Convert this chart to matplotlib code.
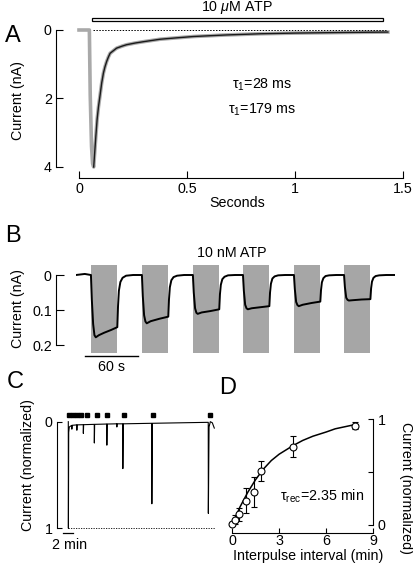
import matplotlib
matplotlib.use("Agg")
import matplotlib.pyplot as plt
from matplotlib.patches import Rectangle

plt.rcParams['font.family'] = ['Liberation Sans', 'DejaVu Sans']
plt.rcParams['font.size'] = 10.3
plt.rcParams['mathtext.fontset'] = 'custom'
plt.rcParams['mathtext.rm'] = 'Liberation Sans'
plt.rcParams['mathtext.it'] = 'Liberation Sans:italic'

# ---------------- data ----------------
# A: response to 10 uM ATP (seconds, nA)
a_t = [0, 0.048, 0.052, 0.058, 0.063, 0.068, 0.073, 0.078, 0.084, 0.09, 0.097,
       0.105, 0.113, 0.12, 0.128, 0.136, 0.144, 0.16, 0.174, 0.2, 0.22, 0.26,
       0.30, 0.375, 0.45, 0.53, 0.68, 0.84, 1.0, 1.2, 1.43]
a_i = [0, 0, 1.9, 3.4, 3.9, 4.0, 3.55, 3.1, 2.6, 2.25, 1.93,
       1.55, 1.26, 1.08, 0.92, 0.79, 0.68, 0.6, 0.53, 0.47, 0.43, 0.38,
       0.34, 0.27, 0.23, 0.19, 0.145, 0.11, 0.09, 0.075, 0.06]
a_fit_from = 5  # fit drawn from the peak on
a_xticks = [0, 0.5, 1, 1.5]
a_yticks = [0, 2, 4]

# B: 10 nM ATP pulses (seconds, nA)
b_pulse_start = [17, 75, 133, 190, 248, 305]
b_pulse_len = 30
b_t = [0, 10, 17, 18, 19.5, 21, 22.5, 26, 32, 40, 47, 47.8, 48.8, 50.5, 53, 57, 65,
       75, 76, 77.5, 79, 80.5, 85, 95, 105, 105.8, 106.8, 108.5, 111, 115, 123,
       133, 134, 135.5, 137, 138.5, 143, 153, 163, 163.8, 164.8, 166.5, 169, 173, 181,
       190, 191, 192.5, 194, 195.5, 200, 210, 220, 220.8, 221.8, 223.5, 226, 230, 238,
       248, 249, 250.5, 252, 253.5, 258, 268, 278, 278.8, 279.8, 281.5, 284, 288, 296,
       305, 306, 307.5, 309, 310.5, 315, 325, 335, 335.8, 336.8, 338.5, 341, 345, 353, 363]
b_i = [0, -0.003, 0, 0.07, 0.14, 0.172, 0.178, 0.172, 0.165, 0.157, 0.149, 0.09, 0.045, 0.02, 0.008, 0.002, 0,
       0, 0.06, 0.115, 0.133, 0.138, 0.132, 0.125, 0.119, 0.07, 0.035, 0.015, 0.006, 0.002, 0,
       0, 0.05, 0.095, 0.108, 0.111, 0.107, 0.103, 0.098, 0.055, 0.028, 0.012, 0.005, 0.001, 0,
       0, 0.045, 0.085, 0.095, 0.098, 0.095, 0.092, 0.089, 0.05, 0.025, 0.01, 0.004, 0.001, 0,
       0, 0.04, 0.077, 0.086, 0.089, 0.085, 0.08, 0.076, 0.043, 0.021, 0.009, 0.003, 0.001, 0,
       0, 0.035, 0.065, 0.071, 0.073, 0.072, 0.07, 0.069, 0.038, 0.019, 0.008, 0.003, 0.001, 0, 0]
b_yticks = [0, 0.1, 0.2]

# C: paired pulses, normalized current (minutes)
c_t = [0, 0.02, 0.08, 0.2, 0.5, 0.69, 0.71, 0.76, 1.69, 1.71, 1.76, 2.99, 3.01, 3.07,
       5.19, 5.21, 5.27, 7.69, 7.71, 7.77, 9.69, 9.71, 9.76, 10.89, 10.91, 10.99,
       16.69, 16.71, 16.8, 27.99, 28.01, 28.15, 28.4, 28.8, 29.2]
c_i = [0, 1.0, 0.1, 0.05, 0.04, 0.035, 0.07, 0.034, 0.03, 0.08, 0.03, 0.028, 0.11, 0.028,
       0.025, 0.2, 0.025, 0.022, 0.22, 0.022, 0.02, 0.05, 0.02, 0.02, 0.44, 0.02,
       0.015, 0.77, 0.015, 0.006, 0.86, 0.05, 0.0, 0.01, 0.06]
c_marks = [0.14, 0.94, 1.74, 2.54, 3.7, 5.7, 7.8, 11.1, 16.9, 28.3]

# D: recovery from desensitization
d_x = [0, 0.2, 0.41, 0.88, 1.38, 1.85, 3.87, 7.83]
d_y = [0.01, 0.05, 0.10, 0.23, 0.31, 0.51, 0.74, 0.94]
d_err = [0.01, 0.04, 0.065, 0.12, 0.14, 0.095, 0.10, 0.036]
d_fit_x = [0, 0.5, 1.0, 1.5, 2.0, 2.5, 3.0, 3.87, 4.5, 5.15, 6.0, 6.57, 7.2, 7.83]
d_fit_y = [0, 0.17, 0.31, 0.43, 0.53, 0.61, 0.67, 0.75, 0.8, 0.84, 0.88, 0.91, 0.93, 0.95]
tau_rec = 2.35

# ---------------- layout helpers (pixel coords, origin top-left) ----------------
W, H = 414, 565
PT = 0.72  # points per pixel at 100 dpi
fig = plt.figure(figsize=(W / 100, H / 100), dpi=100)


def px_axes(l, t, r, b):
    return fig.add_axes([l / W, 1 - b / H, (r - l) / W, (b - t) / H])


def ftext(x, y, s, **kw):
    kw.setdefault('ha', 'center')
    kw.setdefault('va', 'center')
    fig.text(x / W, 1 - y / H, s, **kw)


def clean(ax):
    for s in ax.spines.values():
        s.set_visible(False)
    ax.set_xticks([])
    ax.set_yticks([])
    ax.patch.set_visible(False)


# ---------------- A ----------------
ax = px_axes(79, 30, 403, 167)
clean(ax)
ax.set_xlim(0, 1.5)
ax.set_ylim(4, 0)
ax.plot(a_t, a_i, color='#a9a9a9', lw=2.6, solid_joinstyle='round', clip_on=False)
ax.plot(a_t[a_fit_from:], a_i[a_fit_from:], color='#1a1a1a', lw=1.0, clip_on=False)
ax.plot([0.065, 1.42], [0, 0], color='black', lw=0.7, ls=(0, (1.5, 1.5)), clip_on=False)
ax.spines['left'].set_visible(True)
ax.spines['left'].set_position(('outward', 23 * PT))
ax.spines['left'].set_bounds(0, 4)
ax.spines['bottom'].set_visible(True)
ax.spines['bottom'].set_position(('outward', 11 * PT))
ax.spines['bottom'].set_bounds(0, 1.5)
ax.set_yticks(a_yticks)
ax.set_xticks(a_xticks)
ax.set_xticklabels(['0', '0.5', '1', '1.5'])
ax.tick_params(direction='in', length=7 * PT, width=0.8, pad=3)
ax.text(0.85, 1.6, r'τ$_\mathrm{1}$=28 ms', ha='center', va='center')
ax.text(0.85, 2.32, r'τ$_\mathrm{1}$=179 ms', ha='center', va='center')
ax.add_patch(Rectangle((0.06, -0.35), 1.347, 0.09, facecolor='white',
                       edgecolor='black', lw=0.9, clip_on=False))
ftext(237, 8, r'10 $\mu$M ATP')
ftext(237, 203, 'Seconds')
ftext(18, 100, 'Current (nA)', rotation=90)
ftext(13, 36, 'A', fontsize=17)

# ---------------- B ----------------
ax = px_axes(76, 262, 395, 356)
clean(ax)
ax.set_xlim(0, 363)
ax.set_ylim((356 - 275) / 350, (262 - 275) / 350)
for s in b_pulse_start:
    ax.add_patch(Rectangle((s, -0.029), b_pulse_len, 0.251, facecolor='#a6a6a6',
                           edgecolor='none', zorder=1, clip_on=False))
ax.plot(b_t, b_i, color='black', lw=1.4, zorder=2)
ax.spines['left'].set_visible(True)
ax.spines['left'].set_position(('outward', 20 * PT))
ax.spines['left'].set_bounds(0, 0.2)
ax.set_yticks(b_yticks)
ax.set_yticklabels(['0', '0.1', '0.2'])
ax.tick_params(direction='in', length=8 * PT, width=0.8, pad=3)
ax.plot([10.3, 70.3], [0.231, 0.231], color='black', lw=1.0, clip_on=False)
ftext(111, 367, '60 s')
ftext(232, 253, '10 nM ATP')
ftext(18, 308, 'Current (nA)', rotation=90)
ftext(13, 236, 'B', fontsize=17)

# ---------------- C ----------------
ax = px_axes(56.7, 410, 218, 528.3)
clean(ax)
ax.set_xlim((56.7 - 68.3) / 5, (218 - 68.3) / 5)
ax.set_ylim(1, (410 - 421.7) / 106.7)
ax.plot(c_t, c_i, color='black', lw=0.8, clip_on=False)
ax.plot(c_marks, [-0.063] * len(c_marks), ls='none', marker='s', ms=2.4,
        color='black', clip_on=False)
ax.plot([0, 29.3], [1, 1], color='black', lw=0.6, ls=(0, (1.5, 1.5)), clip_on=False)
ax.spines['left'].set_visible(True)
ax.spines['left'].set_bounds(0, 1)
ax.set_yticks([0, 1])
ax.tick_params(direction='in', length=5 * PT, width=0.8, pad=3)
ax.plot([-1.06, 0.94], [1.04, 1.04], color='black', lw=0.9, clip_on=False)
ftext(70, 545, '2 min')
ftext(28, 465, 'Current (normalized)', rotation=90)
ftext(15, 382, 'C', fontsize=17)

# ---------------- D ----------------
ax = px_axes(228, 412, 373.3, 525)
clean(ax)
ax.set_xlim((228 - 232.3) / 16.4, (373.3 - 232.3) / 16.4)
ax.set_ylim(0, (525 - 412) / 105.7)
ax.plot(d_fit_x, d_fit_y, color='black', lw=1.1, zorder=2)
ax.errorbar(d_x, d_y, yerr=d_err, fmt='o', ms=5, mfc='white', mec='black', mew=0.8,
            ecolor='black', elinewidth=0.8, capsize=2.5, capthick=0.8, zorder=3,
            clip_on=False)
ax.spines['right'].set_visible(True)
ax.spines['right'].set_bounds(0, 1)
ax.spines['bottom'].set_visible(True)
ax.spines['bottom'].set_position(('outward', 7.7 * PT))
ax.spines['bottom'].set_bounds(0, 9)
ax.set_xticks([0, 3, 6, 9])
ax.yaxis.tick_right()
ax.set_yticks([0, 0.5, 1])
ax.set_yticklabels(['0', '', '1'])
ax.tick_params(direction='in', length=5 * PT, width=0.8, pad=3)
ax.tick_params(axis='x', pad=1)
ax.text(5.75, 0.27, r'τ$_\mathrm{rec}$=2.35 min', ha='center', va='center')
ftext(308, 556, 'Interpulse interval (min)')
ftext(406, 488, 'Current (normalized)', rotation=270)
ftext(228, 388, 'D', fontsize=17)

fig.savefig('out.png', dpi=100)
